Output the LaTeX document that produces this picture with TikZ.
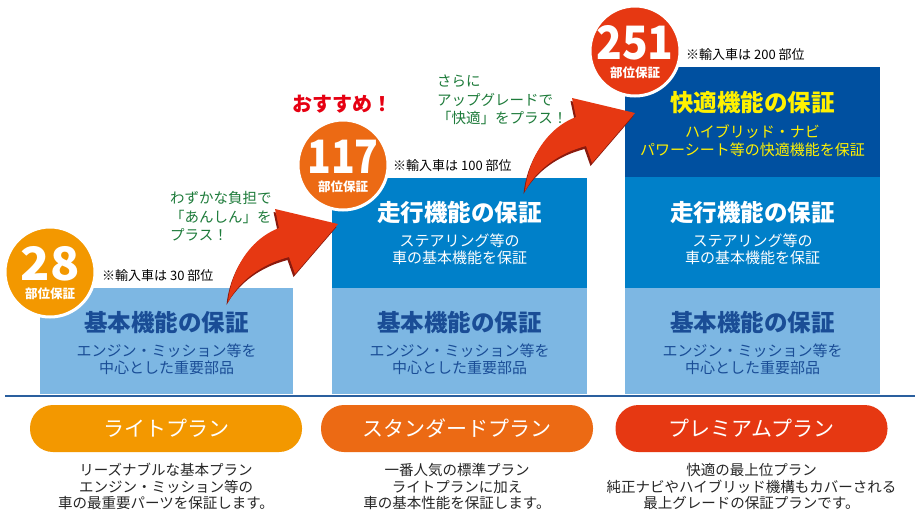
\documentclass[tikz,border=0pt]{standalone}
\usepackage{fontspec}
\usepackage{graphicx}
\setmainfont{Noto Sans CJK JP}
\definecolor{lblue}{HTML}{7DB7E3}
\definecolor{mblue}{HTML}{0080C9}
\definecolor{dblue}{HTML}{0050A0}
\definecolor{btxt}{HTML}{1A4D96}
\definecolor{bline}{HTML}{2A5F9E}
\definecolor{or1}{HTML}{F39800}
\definecolor{or2}{HTML}{EC6A14}
\definecolor{or3}{HTML}{E63812}
\definecolor{ylw}{HTML}{FFF100}
\definecolor{grn}{HTML}{1D7B3A}
\definecolor{rtxt}{HTML}{E60012}
\definecolor{shd}{HTML}{8A1A0E}
\tikzset{
  blk/.style={inner sep=0},
  ttl/.style={inner sep=0, font=\bfseries\fontsize{23.5}{23.5}\selectfont},
  sub/.style={inner sep=0, align=center, font=\fontsize{15}{17.5}\selectfont},
  note/.style={inner sep=0, anchor=west, font=\fontsize{13}{13}\selectfont},
  hint/.style={inner sep=0, anchor=west, align=left, text=grn, font=\fontsize{14.5}{18.5}\selectfont},
  badge/.style={circle, draw=white, line width=3pt, minimum size=90pt, inner sep=0},
  bnum/.style={inner sep=0, text=white, font=\bfseries\fontsize{46}{46}\selectfont},
  bsub/.style={inner sep=0, text=white, font=\bfseries\fontsize{12.5}{12.5}\selectfont},
  pill/.style={rounded corners=23pt, minimum width=272pt, minimum height=47pt, inner sep=0, text=white, font=\fontsize{21}{21}\selectfont},
  desc/.style={inner sep=0, align=center, text=black!85, font=\fontsize{14.5}{16.5}\selectfont},
}
\newcommand\upArrow{%
  \fill[shd, shift={(-1.5,3)}] (228,302) .. controls (231,272) and (248,240) .. (279,228) -- (275,209) -- (338,224) -- (295,274) -- (289,257) .. controls (262,264) and (240,280) .. (228,302) -- cycle;
  \fill[or3] (228,302) .. controls (231,272) and (248,240) .. (279,228) -- (275,209) -- (338,224) -- (295,274) -- (289,257) .. controls (262,264) and (240,280) .. (228,302) -- cycle;
}
\begin{document}
\begin{tikzpicture}[x=1pt,y=-1pt]
\useasboundingbox (0,0) rectangle (920,514);
\fill[white] (0,0) rectangle (920,514);
% blocks
\fill[lblue] (40,288) rectangle (293,394);
\fill[lblue] (332,288) rectangle (587,394);
\fill[mblue] (332,178) rectangle (587,288);
\fill[lblue] (625,288) rectangle (880,394);
\fill[mblue] (625,177) rectangle (880,288);
\fill[dblue] (625,67) rectangle (880,177);
\draw[bline, line width=2pt] (5,396) -- (915,396);
% block texts
\node[ttl, text=btxt] (t1) at (166.5,322) {基本機能の保証};
\node[sub, text=btxt] (s1) at (166.5,359.5) {エンジン・ミッション等を\\中心とした重要部品};
\node[ttl, text=btxt] (t2) at (459.5,322) {基本機能の保証};
\node[sub, text=btxt] (s2) at (459.5,359.5) {エンジン・ミッション等を\\中心とした重要部品};
\node[ttl, text=white] (t3) at (459.5,212) {走行機能の保証};
\node[sub, text=white] (s3) at (459.5,249.5) {ステアリング等の\\車の基本機能を保証};
\node[ttl, text=btxt] (t4) at (752.5,322) {基本機能の保証};
\node[sub, text=btxt] (s4) at (752.5,359.5) {エンジン・ミッション等を\\中心とした重要部品};
\node[ttl, text=white] (t5) at (752.5,212) {走行機能の保証};
\node[sub, text=white] (s5) at (752.5,249.5) {ステアリング等の\\車の基本機能を保証};
\node[ttl, text=ylw] (t6) at (752.5,103) {快適機能の保証};
\node[sub, text=ylw] (s6) at (752.5,140.5) {ハイブリッド・ナビ\\パワーシート等の快適機能を保証};
% arrows
\upArrow
\begin{scope}[shift={(297,-111)}]
\upArrow
\end{scope}
% notes
\node[note] (n1) at (102,276) {※輸入車は 30 部位};
\node[note] (n2) at (393,166) {※輸入車は 100 部位};
\node[note] (n3) at (686,55) {※輸入車は 200 部位};
% hints
\node[hint] (h1) at (170,216.5) {わずかな負担で\\「あんしん」を\\プラス！};
\node[hint] (h2) at (437,100) {さらに\\アップグレードで\\「快適」をプラス！};
\node[inner sep=0, text=rtxt, font=\bfseries\fontsize{20}{20}\selectfont] (rec) at (342,104) {おすすめ！};
% badges
\node[badge, fill=or1] (c1) at (50,272) {};
\node[bnum] (c1n) at ([yshift=8]c1.center) {\scalebox{1.05}[1]{28}};
\node[bsub] (c1s) at ([yshift=-22]c1.center) {部位保証};
\node[badge, fill=or2] (c2) at (343,165) {};
\node[bnum] (c2n) at ([yshift=8]c2.center) {\scalebox{0.85}[1]{117}};
\node[bsub] (c2s) at ([yshift=-22]c2.center) {部位保証};
\node[badge, fill=or3] (c3) at (635,51) {};
\node[bnum] (c3n) at ([yshift=8]c3.center) {\scalebox{0.92}[1]{251}};
\node[bsub] (c3s) at ([yshift=-22]c3.center) {部位保証};
% pills
\node[pill, fill=or1] (p1) at (166,428.5) {ライトプラン};
\node[pill, fill=or2] (p2) at (457,428.5) {スタンダードプラン};
\node[pill, fill=or3] (p3) at (751.5,428.5) {プレミアムプラン};
% descriptions
\node[desc] (d1) at (166,486.5) {リーズナブルな基本プラン\\エンジン・ミッション等の\\車の最重要パーツを保証します。};
\node[desc] (d2) at (457,486.5) {一番人気の標準プラン\\ライトプランに加え\\車の基本性能を保証します。};
\node[desc] (d3) at (751.5,486.5) {快適の最上位プラン\\純正ナビやハイブリッド機構もカバーされる\\最上グレードの保証プランです。};
\end{tikzpicture}
\end{document}
